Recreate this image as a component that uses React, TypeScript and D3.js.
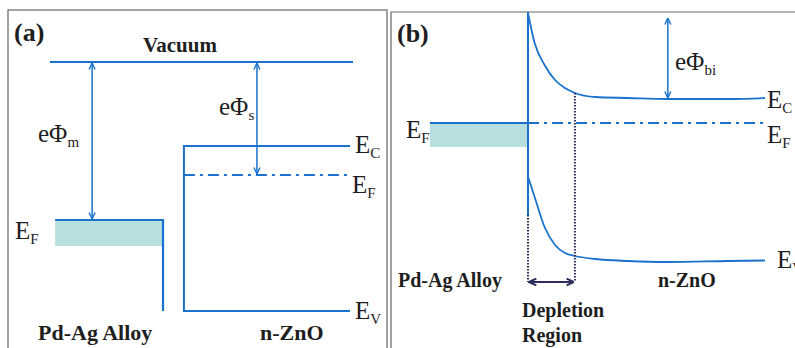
import React from 'react'
import * as d3 from 'd3'

// ---- panel (a): isolated metal and semiconductor, energies in eV below vacuum ----
const vacuumLevel = 0
const metalFermi = -3.16
const metalFillDepth = 0.52
const bandBottom = -4.98
const znoEc = -1.68
const znoEf = -2.26
const znoEv = -4.98
// horizontal extents, in % of panel width
const vacuumSpan = [0, 100]
const metalSpan = [1.7, 37.3]
const znoSpan = [44.2, 99]
const phiM_at = 13.9
const phiS_at = 68.3

// ---- panel (b): contact, energies in eV relative to Fermi level, distance in nm ----
const contactDist = [0, 2.8, 7.0, 11.4, 15.6, 19.8, 28.3, 42.2, 59, 84.4, 100]
const ecBent = [2.2, 1.6, 1.16, 0.86, 0.7, 0.6, 0.52, 0.5, 0.48, 0.48, 0.5]
const evBent = [-1.07, -1.48, -2.08, -2.44, -2.6, -2.66, -2.72, -2.76, -2.78, -2.76, -2.75]
const depletionWidth = 19.8
const metalLeft = -41.4
const fermiB = 0
const fillDepthB = 0.48
const phiBiTop = 2.1
const phiBi_at = 59
const interfaceSolidBottom = -1.84
const dottedBottom = -3.18

const BLUE = '#1a72cc'
const FILL = '#b7dfe0'
const NAVY = '#2d2d5e'
const INK = '#1e1e1e'
const SERIF = "'Liberation Serif', 'Times New Roman', serif"

type SubProps = { x: number; y: number; main: string; sub: string; size?: number; subSize?: number; dy?: number }
const SubLabel = ({ x, y, main, sub, size = 25, subSize = 15, dy = 5 }: SubProps) => (
  <text x={x} y={y} fontFamily={SERIF} fontSize={size} fill={INK}>
    {main}
    <tspan fontSize={subSize} dy={dy}>{sub}</tspan>
  </text>
)

const Bold = ({ x, y, t, size = 21, anchor = 'start' }: { x: number; y: number; t: string; size?: number; anchor?: string }) => (
  <text x={x} y={y} fontFamily={SERIF} fontWeight="bold" fontSize={size} fill={INK} textAnchor={anchor as any}>{t}</text>
)

export default function App() {
  // panel (a) scales
  const xA = d3.scaleLinear().domain([0, 100]).range([50, 353])
  const yA = d3.scaleLinear().domain([0, -5]).range([62, 312])
  // panel (b) scales
  const xB = d3.scaleLinear().domain([0, 100]).range([528, 765])
  const yB = d3.scaleLinear().domain([0, 1]).range([123, 73])

  const bentLine = d3.line<number>()
    .x((_, i) => xB(contactDist[i]))
    .y(d => yB(d))
    .curve(d3.curveMonotoneX)

  const ecAtDep = ecBent[5]

  return (
    <svg width={795} height={348} style={{ position: 'absolute', left: 0, top: 0, background: '#fff' }}>
      <defs>
        <marker id="arrB" viewBox="0 0 8 8" refX={7.5} refY={4} markerWidth={8} markerHeight={8}
          markerUnits="userSpaceOnUse" orient="auto-start-reverse">
          <path d="M1,1 L7.5,4 L1,7" fill="none" stroke={BLUE} strokeWidth={1.4} />
        </marker>
        <marker id="arrN" viewBox="0 0 8 8" refX={7.5} refY={4} markerWidth={9} markerHeight={9}
          markerUnits="userSpaceOnUse" orient="auto-start-reverse">
          <path d="M1,1 L7.5,4 L1,7" fill="none" stroke={NAVY} strokeWidth={1.8} />
        </marker>
      </defs>

      {/* frames */}
      <rect x={8} y={10} width={379} height={360} fill="none" stroke="#666" strokeWidth={1.2} />
      <path d="M391,360 V12 H800" fill="none" stroke="#666" strokeWidth={1.2} />

      {/* ===== panel (a) ===== */}
      <Bold x={14} y={41} t="(a)" size={26} />
      <Bold x={180} y={52} t="Vacuum" size={21} anchor="middle" />
      <line x1={xA(vacuumSpan[0])} x2={xA(vacuumSpan[1])} y1={yA(vacuumLevel)} y2={yA(vacuumLevel)} stroke={BLUE} strokeWidth={2} />

      {/* metal */}
      <rect x={xA(metalSpan[0])} y={yA(metalFermi)} width={xA(metalSpan[1]) - xA(metalSpan[0])}
        height={yA(metalFermi - metalFillDepth) - yA(metalFermi)} fill={FILL} />
      <path d={`M${xA(metalSpan[0])},${yA(metalFermi)} H${xA(metalSpan[1])} V${yA(bandBottom)}`}
        fill="none" stroke={BLUE} strokeWidth={2.2} />

      {/* ZnO */}
      <path d={`M${xA(znoSpan[1])},${yA(znoEc)} H${xA(znoSpan[0])} V${yA(znoEv)} H${xA(znoSpan[1])}`}
        fill="none" stroke={BLUE} strokeWidth={2} />
      <line x1={xA(znoSpan[0])} x2={xA(znoSpan[1])} y1={yA(znoEf)} y2={yA(znoEf)} stroke={BLUE} strokeWidth={2}
        strokeDasharray="11 5 3 5" />

      {/* work function arrows */}
      <line x1={xA(phiM_at)} x2={xA(phiM_at)} y1={yA(vacuumLevel) + 1} y2={yA(metalFermi) - 1} stroke={BLUE} strokeWidth={1.5}
        markerStart="url(#arrB)" markerEnd="url(#arrB)" />
      <line x1={xA(phiS_at)} x2={xA(phiS_at)} y1={yA(vacuumLevel) + 1} y2={yA(znoEf) - 1} stroke={BLUE} strokeWidth={1.5}
        markerStart="url(#arrB)" markerEnd="url(#arrB)" />

      <SubLabel x={38} y={142} main="eΦ" sub="m" size={25} />
      <SubLabel x={219} y={115} main="eΦ" sub="s" size={25} />
      <SubLabel x={355} y={153} main="E" sub="C" />
      <SubLabel x={352} y={193} main="E" sub="F" />
      <SubLabel x={355} y={319} main="E" sub="V" />
      <SubLabel x={15} y={239} main="E" sub="F" />

      <Bold x={38} y={340} t="Pd-Ag Alloy" size={22} />
      <Bold x={260} y={340} t="n-ZnO" size={22} />

      {/* ===== panel (b) ===== */}
      <Bold x={397} y={42} t="(b)" size={26} />

      {/* metal fermi sea */}
      <rect x={xB(metalLeft)} y={yB(fermiB)} width={xB(0) - xB(metalLeft)}
        height={yB(fermiB - fillDepthB) - yB(fermiB)} fill={FILL} />
      <line x1={xB(metalLeft)} x2={xB(0)} y1={yB(fermiB)} y2={yB(fermiB)} stroke={BLUE} strokeWidth={2.2} />
      <line x1={xB(0)} x2={xB(100)} y1={yB(fermiB)} y2={yB(fermiB)} stroke={BLUE} strokeWidth={2}
        strokeDasharray="11 5 3 5" />

      {/* interface */}
      <line x1={xB(0)} x2={xB(0)} y1={12} y2={yB(interfaceSolidBottom)} stroke={BLUE} strokeWidth={2} />
      <line x1={xB(0)} x2={xB(0)} y1={yB(interfaceSolidBottom)} y2={yB(dottedBottom)} stroke={NAVY} strokeWidth={2}
        strokeDasharray="1.5 1.5" />

      {/* bent bands */}
      <path d={bentLine(ecBent) || ''} fill="none" stroke={BLUE} strokeWidth={1.8} />
      <path d={bentLine(evBent) || ''} fill="none" stroke={BLUE} strokeWidth={1.8} />

      {/* depletion edge */}
      <line x1={xB(depletionWidth)} x2={xB(depletionWidth)} y1={yB(ecAtDep)} y2={yB(dottedBottom)} stroke={NAVY} strokeWidth={2}
        strokeDasharray="1.5 1.5" />
      <line x1={xB(0) + 1} x2={xB(depletionWidth) - 1} y1={yB(dottedBottom)} y2={yB(dottedBottom)} stroke={NAVY} strokeWidth={1.8}
        markerStart="url(#arrN)" markerEnd="url(#arrN)" />

      {/* built-in potential */}
      <line x1={xB(phiBi_at)} x2={xB(phiBi_at)} y1={yB(phiBiTop)} y2={yB(ecBent[8]) - 1} stroke={BLUE} strokeWidth={1.5}
        markerStart="url(#arrB)" markerEnd="url(#arrB)" />

      <SubLabel x={675} y={70} main="eΦ" sub="bi" size={25} />
      <SubLabel x={767} y={108} main="E" sub="C" />
      <SubLabel x={767} y={143} main="E" sub="F" />
      <SubLabel x={406} y={138} main="E" sub="F" />
      <SubLabel x={777} y={268} main="E" sub="V" />

      <Bold x={398} y={287} t="Pd-Ag Alloy" size={20} />
      <Bold x={658} y={287} t="n-ZnO" size={20} />
      <Bold x={522} y={317} t="Depletion" size={20} />
      <Bold x={522} y={342} t="Region" size={20} />
    </svg>
  )
}
